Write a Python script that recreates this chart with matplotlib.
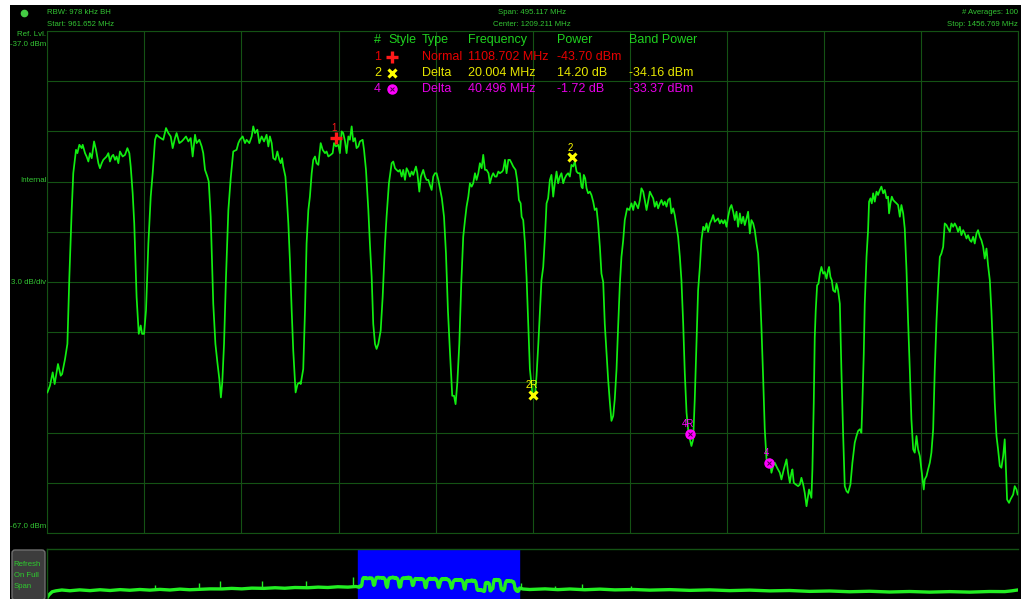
import numpy as np
import matplotlib.pyplot as plt
from matplotlib.lines import Line2D
from matplotlib.patches import Rectangle, FancyBboxPatch

# sweep settings
start_mhz = 961.652
stop_mhz = 1456.769
ref_dbm = -37.0
bottom_dbm = -67.0
full_span = (0, 3000)

# trace (MHz, dBm)
trace_freq = [
    961.7, 963.0, 964.4, 965.4, 967.1, 968.5, 969.2, 970.7, 971.9, 972.9, 974.1, 974.9,
    976.3, 977.0, 978.0, 979.2, 979.7, 980.9, 981.7, 982.6, 983.4, 984.3, 985.5, 986.5,
    987.7, 988.5, 989.4, 990.2, 991.9, 992.8, 993.6, 994.5, 995.3, 996.2, 997.0, 997.9,
    998.7, 1000.1, 1001.3, 1002.5, 1003.5, 1004.2, 1005.2, 1006.0, 1007.2, 1008.3, 1009.3,
    1010.0, 1011.0, 1012.0, 1013.2, 1014.4, 1015.4, 1016.6, 1017.4, 1018.3, 1019.5, 1020.8,
    1022.2, 1023.4, 1024.6, 1025.6, 1026.8, 1027.6, 1029.0, 1030.2, 1031.0, 1032.4, 1033.6,
    1034.8, 1035.8, 1037.0, 1037.8, 1039.2, 1040.4, 1041.2, 1042.1, 1043.3, 1044.0, 1045.0,
    1046.3, 1047.4, 1048.4, 1049.4, 1050.2, 1050.9, 1051.8, 1052.8, 1054.0, 1055.2, 1055.9,
    1056.5, 1058.2, 1059.1, 1059.9, 1061.3, 1062.5, 1063.3, 1064.7, 1065.9, 1066.7, 1067.6,
    1068.8, 1069.8, 1071.0, 1072.2, 1073.5, 1074.4, 1075.2, 1076.1, 1076.9, 1078.0, 1079.0,
    1080.0, 1080.7, 1081.4, 1082.0, 1083.1, 1083.7, 1084.6, 1085.4, 1086.3, 1087.1, 1088.3,
    1089.3, 1090.5,
    1090.9, 1092.2, 1093.1, 1093.9, 1094.8, 1095.6, 1096.5, 1097.3, 1098.2, 1099.0, 1099.9,
    1101.1, 1102.1, 1103.3, 1104.1, 1105.0, 1106.2, 1107.2, 1107.9, 1108.9, 1110.1, 1110.9,
    1111.8, 1112.6, 1113.5, 1114.3, 1115.2, 1116.0, 1116.9, 1117.7, 1118.6, 1119.4, 1120.3,
    1121.1, 1122.5, 1123.2, 1124.2, 1125.4, 1126.2, 1127.1, 1127.9, 1128.8, 1129.6, 1130.5,
    1131.7, 1132.7, 1133.9, 1134.7, 1135.9, 1137.3, 1138.1, 1139.0, 1139.8, 1140.7, 1141.5,
    1142.4, 1143.2, 1144.1, 1144.9, 1145.8, 1146.6, 1147.5, 1148.3, 1149.7, 1150.4, 1151.4,
    1152.2, 1153.4, 1154.3, 1155.1, 1156.0, 1156.8, 1157.7, 1158.5, 1159.4, 1160.2, 1161.1,
    1161.9, 1162.9, 1164.0, 1165.0, 1166.0, 1167.0, 1168.2, 1169.1, 1169.9, 1170.8, 1171.8,
    1172.8, 1173.8, 1174.7, 1175.5, 1176.4, 1177.2, 1178.1, 1178.9, 1179.8, 1180.6, 1181.5,
    1182.3, 1183.2, 1184.0, 1184.9, 1185.7, 1186.7, 1187.4, 1188.3, 1189.1, 1190.0, 1190.8,
    1191.7, 1192.5, 1193.7, 1194.2, 1195.1, 1195.9, 1196.8, 1197.6, 1198.5, 1199.3, 1200.5,
    1201.4, 1202.2, 1203.1, 1203.6, 1204.4, 1205.3, 1206.1, 1207.0, 1207.8, 1209.2, 1210.4,
    1211.2, 1212.1,
    1213.7, 1214.6, 1215.4, 1216.3, 1217.1, 1218.0, 1218.8, 1219.7, 1220.5, 1221.4, 1222.2,
    1223.1, 1223.9, 1224.8, 1225.6, 1226.5, 1227.3, 1228.2, 1229.0, 1229.9, 1230.7, 1231.6,
    1232.4, 1233.3, 1234.1, 1234.7, 1235.3, 1236.0, 1236.7, 1237.5, 1238.4, 1239.2, 1240.1,
    1240.9, 1241.8, 1242.6, 1243.5, 1244.3, 1245.2, 1246.0, 1246.9, 1247.7, 1248.6, 1249.4,
    1250.3, 1251.1, 1252.0, 1252.8, 1253.7, 1254.5, 1255.4, 1256.2, 1257.4, 1258.5, 1259.6,
    1260.5, 1261.3, 1262.2, 1263.0, 1263.9, 1264.7, 1265.6, 1266.4, 1267.3, 1268.1, 1269.0,
    1269.8, 1270.7, 1271.5, 1272.4, 1273.2, 1274.1, 1274.9, 1275.8, 1276.6, 1277.5, 1278.3,
    1279.2, 1280.0, 1280.9, 1281.7, 1282.6, 1283.4, 1284.3, 1285.1, 1286.0, 1286.8, 1287.7,
    1288.5, 1289.4, 1290.2, 1291.1, 1291.9, 1292.8, 1293.6, 1294.5, 1295.3, 1296.2, 1297.0,
    1297.9, 1298.7, 1299.6, 1300.4, 1301.3, 1302.1, 1303.0, 1303.8, 1304.7, 1305.5, 1306.4,
    1307.2, 1308.1, 1308.9, 1309.8, 1310.6, 1311.5, 1312.3, 1313.2, 1314.0, 1314.9, 1315.7,
    1316.6, 1317.4, 1318.3, 1319.1, 1320.0, 1320.8, 1321.7, 1322.5, 1323.4, 1324.2, 1325.1,
    1325.9, 1326.8, 1327.6, 1328.5, 1329.3, 1330.2, 1331.0, 1331.9, 1332.7, 1333.9,
    1335.3, 1336.1, 1337.3, 1338.7, 1339.5, 1340.4, 1341.2, 1341.7, 1342.4, 1343.4, 1344.6,
    1345.5, 1346.3, 1347.2, 1348.0, 1348.9, 1349.7, 1350.2, 1351.4, 1351.9, 1352.6, 1353.1,
    1353.6, 1354.3, 1355.0, 1355.7, 1356.5, 1357.4, 1358.2, 1359.1, 1359.9, 1360.4, 1361.1,
    1361.8, 1362.5, 1363.5, 1364.2, 1365.0, 1365.9, 1366.7, 1367.6, 1368.4, 1369.3, 1370.1,
    1371.3, 1372.3, 1373.5, 1374.4, 1375.2, 1376.1, 1376.9, 1377.4, 1378.1, 1378.6, 1379.5,
    1380.3, 1380.8, 1381.5, 1382.2, 1382.9, 1383.7, 1384.6, 1385.4, 1386.3, 1387.1, 1388.0,
    1388.8, 1389.7, 1390.5, 1391.0, 1391.7, 1392.4, 1393.1, 1393.9, 1394.8, 1395.6, 1396.5,
    1397.3, 1398.2, 1399.0, 1399.9, 1400.7, 1401.6, 1402.4, 1403.3, 1404.1, 1405.0, 1405.8,
    1406.7, 1407.5, 1408.7, 1409.2, 1410.1, 1410.9, 1411.8, 1412.6, 1413.5, 1414.3, 1415.2,
    1416.0, 1416.9, 1417.7, 1418.6, 1419.4, 1420.3, 1421.1, 1422.0, 1422.8, 1423.7, 1424.5,
    1425.4, 1426.2, 1427.1, 1427.9, 1428.8, 1429.6, 1430.5, 1431.3, 1432.2, 1433.0, 1433.9,
    1434.7, 1435.6, 1436.4, 1437.3, 1438.1, 1439.0, 1439.8, 1440.7, 1441.5, 1442.4, 1443.2,
    1444.1, 1444.9, 1445.8, 1446.6, 1447.5, 1448.3, 1449.2, 1450.0, 1450.5, 1451.2, 1452.2,
    1452.9, 1454.3, 1455.1, 1456.0, 1456.6,
]
trace_dbm = [
    -58.6, -58.2, -57.4, -58.1, -56.9, -57.6, -57.5, -56.6, -55.7, -51.7, -47.7, -45.5,
    -44.1, -44.3, -43.8, -44.0, -43.8, -44.3, -44.5, -44.8, -44.3, -44.6, -43.6, -44.1,
    -44.9, -45.2, -44.9, -44.7, -44.5, -44.3, -44.8, -44.5, -44.4, -44.7, -44.5, -44.9,
    -44.2, -44.5, -44.4, -44.0, -44.3, -45.1, -46.7, -48.5, -52.9, -55.1, -54.6,
    -55.1, -55.1, -53.7, -49.7, -46.9, -45.5, -43.5, -43.2, -43.3, -43.4, -43.5,
    -42.8, -43.1, -43.3, -44.0, -43.4, -43.1, -43.7, -43.6, -43.5, -43.3, -43.6,
    -43.4, -44.5, -43.2, -43.7, -43.5, -43.9, -44.3, -45.3, -45.7, -46.0, -48.1,
    -53.3, -55.7, -56.8, -57.8, -58.9, -58.0, -55.7, -51.7, -47.7, -45.8, -44.9,
    -44.2, -44.1, -43.7, -43.5, -43.3, -43.7, -43.5, -43.7, -43.3, -42.7, -43.1,
    -42.9, -43.7, -43.3, -43.6, -43.2, -43.9, -43.3, -43.7, -44.6, -44.7, -44.2,
    -44.7, -44.9, -44.6, -45.1, -45.7, -46.7, -48.5, -50.7, -53.7, -56.1, -58.6,
    -58.1, -58.0,
    -58.1, -57.2, -53.7, -49.7, -47.7, -46.9, -45.5, -44.7, -44.5, -44.9, -45.0,
    -43.7, -44.1, -44.3, -44.2, -44.5, -44.4, -44.3, -43.7, -43.9, -43.8, -44.3,
    -43.0, -43.1, -43.6, -44.3, -43.3, -43.5, -42.7, -43.6, -43.4, -44.0, -43.9,
    -43.6, -43.5, -44.1, -45.3, -47.7, -49.7, -51.7, -54.5, -55.7, -56.0, -55.7,
    -54.9, -52.9, -49.7, -48.1, -46.1, -44.9, -44.8, -45.2, -45.3, -45.4, -45.3,
    -45.7, -45.3, -45.9, -45.2, -45.4, -45.7, -45.4, -45.6, -45.1, -45.5, -46.6,
    -45.7, -45.3, -45.7, -45.9, -45.9, -46.2, -46.5, -45.7, -45.5, -45.5, -45.9,
    -46.4, -47.0, -48.1, -50.3, -53.7, -56.1, -58.8, -58.8, -59.3, -58.0, -55.7,
    -52.1, -49.3, -48.3, -47.5, -46.9, -46.1, -46.3, -46.1, -45.5, -45.9, -45.5,
    -44.9, -45.2, -44.4, -45.3, -45.3, -45.5, -46.1, -45.7, -45.5, -45.7, -45.7,
    -45.4, -45.5, -45.4, -45.3, -44.7, -45.5, -44.7, -44.7, -44.9, -45.1, -45.3,
    -46.0, -47.1, -47.3, -48.1, -48.3, -49.7, -51.7, -54.7, -57.2, -58.8, -58.8,
    -57.6, -55.7,
    -51.9, -51.1, -49.5, -47.3, -47.0, -45.9, -45.6, -46.9, -46.1, -45.4, -46.1,
    -45.7, -45.5, -46.1, -45.8, -45.6, -45.5, -45.7, -45.0, -45.1, -44.8, -45.4,
    -45.5, -45.5, -46.3, -46.4, -45.6, -45.8, -46.4, -46.7, -46.6, -46.8, -47.2,
    -47.7, -47.6, -48.5, -49.9, -51.5, -52.0, -54.5, -56.3, -57.8, -59.2, -60.3,
    -60.0, -59.0, -57.2, -54.7, -52.1, -50.5, -49.5, -48.3, -47.6, -47.7, -47.3,
    -47.7, -47.2, -47.4, -47.6, -47.1, -46.4, -46.6, -47.1, -47.7, -47.2, -46.6,
    -46.8, -47.0, -47.5, -47.2, -47.6, -47.3, -47.1, -47.4, -47.2, -47.5, -47.1,
    -47.0, -47.9, -47.6, -48.0, -48.7, -49.3, -50.5, -51.9, -54.5, -57.4, -59.8,
    -60.8, -61.4, -61.8, -61.4, -59.0, -55.5, -52.5, -51.1, -49.5, -48.7, -48.9,
    -48.5, -49.0, -48.5, -48.3, -48.0, -48.4, -48.3, -48.2, -48.5, -48.3, -48.5,
    -48.3, -48.7, -48.1, -47.6, -47.4, -47.8, -48.3, -47.8, -48.7, -47.9, -48.5,
    -48.1, -48.6, -48.2, -47.8, -49.1, -48.3, -48.5, -48.9, -49.7, -50.3, -52.3,
    -54.7, -57.8, -60.8, -62.6, -62.9, -62.6, -63.4, -63.0, -62.8, -63.1,
    -63.4, -63.8, -63.2, -62.6, -63.4, -64.0, -63.4, -63.2, -64.0, -64.1, -64.2,
    -64.1, -63.7, -64.1, -64.6, -65.4, -64.8, -64.4, -64.9, -63.2, -59.2, -55.3,
    -53.7, -52.2, -52.1, -51.5, -51.1, -51.5, -51.4, -51.8, -51.3, -51.1, -51.7,
    -51.9, -52.5, -52.6, -52.1, -52.5, -53.3, -57.3, -61.2, -64.2, -64.5, -64.6,
    -64.1, -62.8, -61.6, -61.2, -60.9, -60.8, -61.0, -59.2, -56.3, -53.3, -50.5,
    -48.9, -47.2, -47.0, -47.3, -46.7, -47.2, -46.6, -46.8, -46.5, -46.3, -46.7,
    -46.5, -47.0, -46.9, -47.9, -47.3, -46.9, -47.1, -47.2, -47.3, -47.4, -48.1,
    -47.4, -47.9, -48.8, -51.3, -54.3, -57.3, -60.2, -62.0, -62.2, -61.2, -62.0,
    -62.4, -63.2, -64.4, -63.8, -63.6, -63.2, -62.8, -62.2, -60.8, -57.3, -54.3,
    -52.3, -50.5, -50.3, -49.9, -48.5, -48.6, -48.8, -49.0, -48.5, -48.7, -48.5,
    -48.7, -49.0, -48.7, -49.2, -48.9, -49.1, -49.4, -49.2, -49.5, -49.6, -49.3,
    -49.7, -49.1, -48.9, -49.3, -49.5, -49.9, -50.6, -50.0, -51.0, -51.9, -53.7,
    -56.3, -59.2, -61.2, -62.0, -63.0, -63.1, -62.4, -61.4, -62.8, -65.0, -65.2,
    -65.0, -64.7, -64.2, -64.4, -64.7,
]

# full-span overview outside the zoomed band (MHz, dBm on the overview scale)
ov_left_freq = [0, 5, 15, 27, 45, 70, 100, 132, 163, 194, 225, 255, 286, 317, 348,
                379, 410, 440, 472, 503, 540, 570, 601, 632, 670, 704, 734, 765, 805,
                837, 867, 898, 929, 954]
ov_left_dbm = [-75.0, -71.0, -66.0, -64.5, -63.2, -64.4, -63.0, -64.2, -62.8, -64.0, -62.6,
               -63.6, -62.4, -63.4, -62.2, -63.2, -61.8, -62.8, -62.0, -61.4, -61.5, -60.6,
               -61.4, -60.2, -60.6, -59.6, -60.4, -59.2, -59.6, -58.6, -59.2, -58.0, -58.6,
               -57.6]
ov_right_freq = [1460, 1470, 1491, 1538, 1578, 1615, 1661, 1708, 1754, 1813, 1862, 1924,
                 1986, 2047, 2109, 2171, 2233, 2294, 2356, 2418, 2480, 2541, 2603, 2665,
                 2727, 2789, 2851, 2912, 2959, 2980, 2996]
ov_right_dbm = [-60.0, -61.6, -62.4, -61.4, -62.6, -61.6, -62.8, -61.8, -63.0, -62.4, -63.4,
                -62.6, -63.8, -63.0, -64.2, -63.4, -64.6, -64.0, -65.4, -64.8, -66.0, -65.2,
                -66.4, -65.6, -66.6, -65.8, -66.6, -65.6, -65.8, -64.6, -63.4]
# narrow spurs sticking out of the overview floor
spur_freq = [333, 469, 534, 663, 798, 944, 1465, 1569, 1652, 1803]
spur_dbm = [-55.6, -52.0, -48.5, -48.8, -48.8, -43.0, -51.5, -56.5, -53.6, -57.5]

# markers as drawn on the trace
marker_names = ['1', '2R', '2', '4R', '4']
marker_freq = [1108.7, 1209.3, 1229.3, 1289.4, 1329.9]
marker_dbm = [-43.4, -58.75, -44.55, -61.08, -62.8]

# marker table
tab_header = ['#', 'Style', 'Type', 'Frequency', 'Power', 'Band Power']
tab_num = ['1', '2', '4']
tab_type = ['Normal', 'Delta', 'Delta']
tab_freq = ['1108.702 MHz', '20.004 MHz', '40.496 MHz']
tab_power = ['-43.70 dBm', '14.20 dB', '-1.72 dB']
tab_band = ['', '-34.16 dBm', '-33.37 dBm']

W, H = 1021, 599
GREEN = '#11ee11'
GRID = '#145214'
TXT = '#33c433'
HEAD = '#1fd21f'
ROWCOL = ['#e60000', '#e6e600', '#e600e6']
MKCOL = {'1': '#ff1a1a', '2': '#ffff00', '2R': '#ffff00', '4': '#ff00ff', '4R': '#ff00ff'}
FONT = 'Liberation Sans'


def fx(x):
    return x / W


def fy(y):
    return 1 - y / H


def draw_marker(target, x, y, name, **kw):
    c = MKCOL[name]
    if name == '1':
        target.plot(x, y, marker='+', ms=8, mew=2.4, color=c, zorder=5, **kw)
    elif name.startswith('2'):
        target.plot(x, y, marker='x', ms=6, mew=2.2, color=c, zorder=5, **kw)
    else:
        target.plot(x, y, marker='o', ms=6.5, color=c, mec=c, zorder=5, **kw)
        target.plot(x, y, marker='x', ms=3, mew=0.7, color='#440044', zorder=6, **kw)


fig = plt.figure(figsize=(W / 100, H / 100), dpi=100, facecolor='white')
fig.add_artist(Rectangle((fx(10), 0), 1, fy(5), transform=fig.transFigure,
                         facecolor='black', edgecolor='none', zorder=0))

# main trace area
ax = fig.add_axes([fx(47.3), fy(533), (1018 - 47.3) / W, (533 - 31) / H])
ax.set_facecolor('black')
ax.set_xlim(start_mhz, stop_mhz)
ax.set_ylim(bottom_dbm, ref_dbm)
ax.set_xticks(np.linspace(start_mhz, stop_mhz, 11))
ax.set_yticks(np.linspace(bottom_dbm, ref_dbm, 11))
ax.tick_params(length=0, labelbottom=False, labelleft=False)
ax.grid(True, color=GRID, lw=0.8)
for s in ax.spines.values():
    s.set_color(GRID)
    s.set_linewidth(0.8)
ax.plot(trace_freq, trace_dbm, color=GREEN, lw=1.25, zorder=3)

for name, f, p in zip(marker_names, marker_freq, marker_dbm):
    draw_marker(ax, f, p, name)
    dx = -1 if name != '4' else -2
    ax.annotate(name, (f, p), xytext=(dx, 7), textcoords='offset points',
                ha='center', va='center', fontsize=7, color=MKCOL[name], family=FONT,
                zorder=6)

# overview strip
ax2 = fig.add_axes([fx(47.3), 0, (1018 - 47.3) / W, (599 - 549) / H])
ax2.set_facecolor('black')
ax2.set_xlim(*full_span)
ax2.set_ylim(-77.6, 2.4)
ax2.set_xticks([])
ax2.set_yticks([])
for k, s in ax2.spines.items():
    s.set_color(GRID)
    s.set_linewidth(1)
    s.set_visible(k in ('top', 'left'))
ax2.axvspan(start_mhz, stop_mhz, color='#0000ff', zorder=1)
ov_f = ov_left_freq + trace_freq + ov_right_freq
ov_p = ov_left_dbm + trace_dbm + ov_right_dbm
ax2.plot(ov_f, ov_p, color='#22ee22', lw=2.4, zorder=2)
ax2.vlines(spur_freq, np.interp(spur_freq, ov_f, ov_p), spur_dbm, color='#22ee22',
           lw=1.0, zorder=2)

# header text
fig.add_artist(Line2D([fx(24)], [fy(13)], marker='o', ms=4.5, color='#44cc44',
                      transform=fig.transFigure))
small = dict(fontsize=5.6, color=TXT, family=FONT, va='center')
fig.text(fx(47), fy(12), 'RBW: 978 kHz BH', ha='left', **small)
fig.text(fx(47), fy(24), 'Start: 961.652 MHz', ha='left', **small)
fig.text(fx(532), fy(12), 'Span: 495.117 MHz', ha='center', **small)
fig.text(fx(532), fy(24), 'Center: 1209.211 MHz', ha='center', **small)
fig.text(fx(1018), fy(12), '# Averages: 100', ha='right', **small)
fig.text(fx(1018), fy(24), 'Stop: 1456.769 MHz', ha='right', **small)

side = dict(fontsize=5.7, color=TXT, family=FONT, va='center', ha='right', zorder=3)
fig.text(fx(46.5), fy(35), 'Ref. Lvl.', **side)
fig.text(fx(46.5), fy(44), '-37.0 dBm', **side)
fig.text(fx(46.5), fy(181), 'Internal', **side)
fig.text(fx(46.5), fy(282), '3.0 dB/div', **side)
fig.text(fx(46.5), fy(527), '-67.0 dBm', **side)

# marker table
col_x = [374, 388, 422, 468, 557, 629]
row_y = [40, 56.7, 73.3, 89]
tab = dict(fontsize=9, family=FONT, va='center', ha='left')
for x, s in zip(col_x, tab_header):
    fig.text(fx(x), fy(row_y[0]), s, color=HEAD, **tab)
for i in range(3):
    y = row_y[i + 1]
    c = ROWCOL[i]
    fig.text(fx(col_x[0]), fy(y), tab_num[i], color=c, **tab)
    fig.text(fx(col_x[2]), fy(y), tab_type[i], color=c, **tab)
    fig.text(fx(col_x[3]), fy(y), tab_freq[i], color=c, **tab)
    fig.text(fx(col_x[4]), fy(y), tab_power[i], color=c, **tab)
    fig.text(fx(col_x[5]), fy(y), tab_band[i], color=c, **tab)
    draw_marker(fig.axes[0], fx(392), fy(y), tab_num[i], transform=fig.transFigure,
                clip_on=False)

# refresh button
btn = FancyBboxPatch((fx(12), fy(600)), fx(33), (600 - 550) / H,
                     boxstyle='round,pad=0,rounding_size=0.003', mutation_aspect=W / H,
                     transform=fig.transFigure, facecolor='#3c3c3c', edgecolor='#6e6e6e',
                     lw=1, zorder=2)
fig.add_artist(btn)
for yy, s in zip([565, 575.5, 586], ['Refresh', 'On Full', 'Span']):
    fig.text(fx(13.5), fy(yy), s, fontsize=5.6, color='#2ecc2e', family=FONT,
             va='center', ha='left', zorder=3)

fig.savefig('out.png', dpi=100, facecolor=fig.get_facecolor())
